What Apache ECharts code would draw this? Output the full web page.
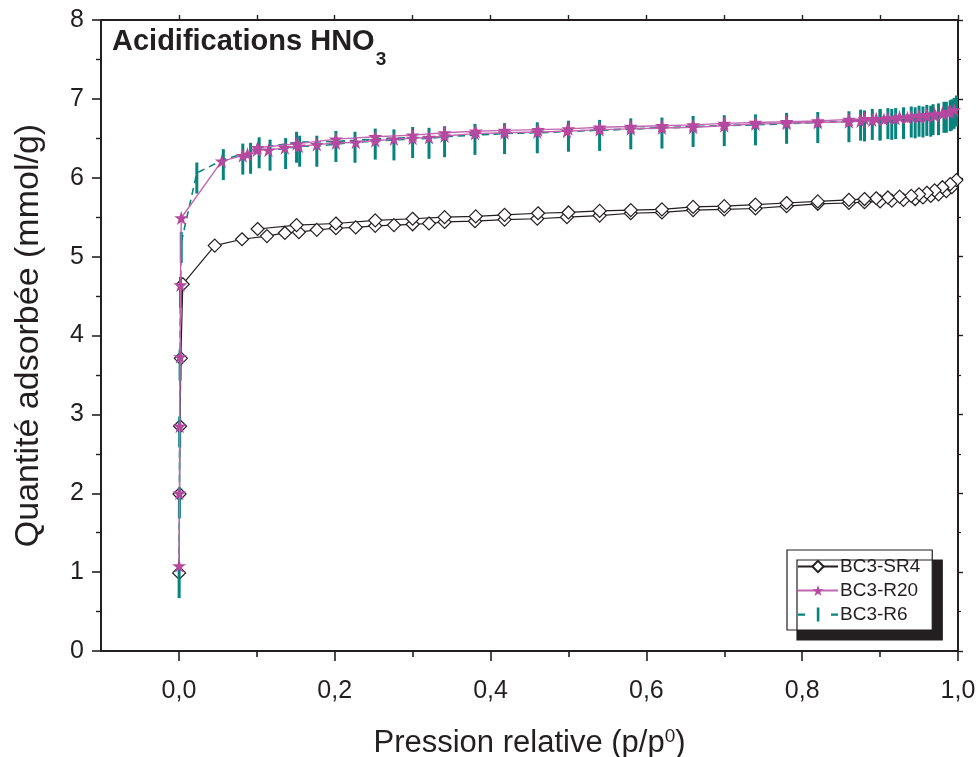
<!DOCTYPE html>
<html>
<head>
<meta charset="utf-8">
<script src="https://cdn.jsdelivr.net/npm/echarts@6/dist/echarts.min.js"></script>
<style>
html,body{margin:0;padding:0;background:#fff;}
#chart{width:977px;height:757px;}
</style>
</head>
<body>
<div id="chart"></div>
<script>
// ---------- data ----------
const X_LABEL_TICKS = [0.0, 0.2, 0.4, 0.6, 0.8, 1.0];
const X_MINOR_TICKS = [0.1, 0.3, 0.5, 0.7, 0.9];
const X_ALL_TENTHS = [0.0, 0.1, 0.2, 0.3, 0.4, 0.5, 0.6, 0.7, 0.8, 0.9, 1.0];

// BC3-SR4 (adsorption then desorption)
const SR4_ADS_X = [0.0003,0.0008,0.0015,0.0025,0.005,0.046,0.081,0.113,0.136,0.154,0.177,0.2015,0.227,0.252,0.276,0.300,0.321,0.341,0.380,0.418,0.460,0.498,0.540,0.580,0.620,0.660,0.700,0.740,0.780,0.820,0.860,0.880,0.900,0.915,0.930,0.945,0.955,0.965,0.975,0.985,0.992,0.998];
const SR4_ADS_Y = [0.99,1.99,2.85,3.71,4.65,5.14,5.22,5.26,5.30,5.31,5.34,5.36,5.37,5.39,5.40,5.41,5.42,5.44,5.45,5.47,5.48,5.50,5.52,5.55,5.56,5.59,5.60,5.61,5.64,5.67,5.68,5.69,5.70,5.71,5.72,5.73,5.75,5.77,5.79,5.83,5.88,5.97];
const SR4_DES_X = [0.990,0.980,0.970,0.960,0.950,0.940,0.925,0.910,0.895,0.880,0.860,0.820,0.780,0.740,0.700,0.660,0.620,0.580,0.540,0.500,0.461,0.418,0.381,0.341,0.300,0.252,0.2015,0.151,0.101];
const SR4_DES_Y = [5.92,5.88,5.84,5.81,5.79,5.77,5.76,5.75,5.74,5.73,5.72,5.70,5.68,5.66,5.64,5.63,5.60,5.59,5.58,5.56,5.55,5.53,5.51,5.50,5.48,5.46,5.42,5.40,5.35];

// BC3-R20
const R20_ADS_X = [0.0003,0.0006,0.001,0.0015,0.002,0.003,0.055,0.082,0.088,0.100,0.115,0.136,0.154,0.177,0.2015,0.227,0.252,0.276,0.300,0.321,0.341,0.380,0.418,0.460,0.498,0.540,0.580,0.620,0.660,0.700,0.740,0.780,0.820,0.860,0.875,0.890,0.905,0.920,0.935,0.950,0.960,0.970,0.980,0.988,0.995];
const R20_ADS_Y = [1.08,2.00,2.85,3.73,4.64,5.49,6.21,6.28,6.30,6.35,6.35,6.38,6.40,6.42,6.44,6.45,6.47,6.49,6.50,6.51,6.53,6.56,6.57,6.58,6.59,6.61,6.62,6.63,6.64,6.66,6.68,6.69,6.70,6.71,6.72,6.73,6.74,6.75,6.76,6.77,6.78,6.79,6.81,6.83,6.86];
const R20_DES_X = [0.990,0.980,0.970,0.960,0.950,0.940,0.925,0.910,0.895,0.880,0.860,0.820,0.780,0.740,0.700,0.660,0.620,0.580,0.540,0.500,0.461,0.418,0.381,0.341,0.300,0.252,0.2015,0.151,0.101];
const R20_DES_Y = [6.84,6.82,6.81,6.80,6.79,6.78,6.77,6.76,6.75,6.75,6.74,6.72,6.71,6.70,6.69,6.67,6.66,6.65,6.64,6.62,6.61,6.60,6.59,6.57,6.54,6.52,6.49,6.43,6.38];

// BC3-R6
const R6_ADS_X = [0.0003,0.0006,0.001,0.0015,0.002,0.003,0.023,0.057,0.082,0.092,0.117,0.137,0.155,0.177,0.226,0.276,0.321,0.380,0.460,0.540,0.620,0.700,0.780,0.860,0.880,0.900,0.915,0.930,0.945,0.955,0.965,0.975,0.985,0.992,0.998];
const R6_ADS_Y = [0.93,1.94,2.84,3.69,4.61,5.18,6.06,6.23,6.30,6.31,6.35,6.37,6.40,6.40,6.45,6.48,6.50,6.55,6.57,6.60,6.63,6.66,6.69,6.71,6.72,6.73,6.74,6.75,6.76,6.77,6.78,6.80,6.83,6.86,6.91];
const R6_DES_X = [0.995,0.990,0.982,0.975,0.968,0.960,0.950,0.940,0.930,0.920,0.910,0.900,0.890,0.875,0.820,0.740,0.660,0.580,0.500,0.418,0.341,0.300,0.252,0.2015,0.151,0.103];
const R6_DES_Y = [6.88,6.85,6.83,6.81,6.80,6.79,6.78,6.77,6.76,6.75,6.75,6.74,6.74,6.73,6.70,6.67,6.65,6.62,6.59,6.56,6.52,6.51,6.49,6.46,6.45,6.38];

const SERIES_NAMES = ['BC3-SR4', 'BC3-R20', 'BC3-R6'];

// ---------- helpers ----------
function pairs(xs, ys) { return xs.map((x, i) => [x, ys[i]]); }
const FONT = "'Liberation Sans', Arial, Helvetica, sans-serif";
const INK = '#231f20';
const MAGENTA = '#b5489f';
const MAGENTA_LINE = '#c467b1';
const TEAL = '#07837e';
const STAR = 'path://M50,0 L61.2,34.5 L97.6,34.5 L68.2,55.9 L79.4,90.5 L50,69.1 L20.6,90.5 L31.8,55.9 L2.4,34.5 L38.8,34.5 Z';
const R6_ICON = 'path://M0,6h7v2.2h-7z M18.8,0h2.6v14h-2.6z M33,6h7v2.2h-7z';
const fmt = v => v.toFixed(1).replace('.', ',');

const GRID = { left: 101, right: 19, top: 20, bottom: 106, containLabel: false, outerBoundsMode: 'none' };

const chart = echarts.init(document.getElementById('chart'), null, { renderer: 'canvas' });

const option = {
  animation: false,
  backgroundColor: '#ffffff',
  textStyle: { fontFamily: FONT },
  title: {
    text: '{a|Acidifications HNO}{b|3}',
    left: 112, top: 27,
    padding: 0,
    textStyle: {
      rich: {
        a: { fontFamily: FONT, fontSize: 29, fontWeight: 'bold', color: INK, lineHeight: 34, verticalAlign: 'top' },
        b: { fontFamily: FONT, fontSize: 19, fontWeight: 'bold', color: INK, lineHeight: 18, padding: [23, 0, 0, 1], verticalAlign: 'top' }
      }
    }
  },
  grid: [
    Object.assign({}, GRID),
    Object.assign({}, GRID)
  ],
  legend: {
    orient: 'vertical',
    left: 787, top: 550,
    padding: [7, 12, 6, 10],
    itemWidth: 40, itemHeight: 14, itemGap: 5,
    backgroundColor: '#ffffff',
    borderColor: INK, borderWidth: 1.2, borderRadius: 0,
    shadowColor: INK, shadowBlur: 0, shadowOffsetX: 10, shadowOffsetY: 10,
    textStyle: { fontFamily: FONT, fontSize: 19, color: INK, lineHeight: 18, padding: [0, 0, 0, -3] },
    data: [
      { name: SERIES_NAMES[0] },
      { name: SERIES_NAMES[1] },
      { name: SERIES_NAMES[2], icon: R6_ICON }
    ]
  },
  xAxis: [
    {
      gridIndex: 0, type: 'value', position: 'bottom',
      min: -0.1, max: 1.0, interval: 0.1,
      axisLine: { show: true, onZero: false, lineStyle: { color: INK, width: 2 } },
      axisTick: { show: true, inside: false, length: 10, customValues: X_LABEL_TICKS, lineStyle: { color: INK, width: 1.6 } },
      axisLabel: { show: true, customValues: X_LABEL_TICKS, formatter: fmt, fontFamily: FONT, fontSize: 25, color: INK, margin: 28 },
      splitLine: { show: false },
      name: '{a|Pression relative (p/p}{s|0}{a|)}',
      nameLocation: 'middle', nameGap: 72,
      nameTextStyle: {
        rich: {
          a: { fontFamily: FONT, fontSize: 31, color: INK, lineHeight: 36, verticalAlign: 'bottom' },
          s: { fontFamily: FONT, fontSize: 19, color: INK, lineHeight: 20, padding: [0, 0, 13, 0], verticalAlign: 'bottom' }
        }
      }
    },
    {
      gridIndex: 0, type: 'value', position: 'top',
      min: -0.1, max: 1.0, interval: 0.1,
      axisLine: { show: true, onZero: false, lineStyle: { color: INK, width: 2 } },
      axisTick: { show: true, inside: false, length: 5, customValues: X_ALL_TENTHS, lineStyle: { color: INK, width: 1.4 } },
      axisLabel: { show: false },
      splitLine: { show: false }
    },
    {
      gridIndex: 1, type: 'value', position: 'bottom',
      min: -0.1, max: 1.0, interval: 0.1,
      axisLine: { show: false, onZero: false },
      axisTick: { show: true, inside: false, length: 6, customValues: X_MINOR_TICKS, lineStyle: { color: INK, width: 1.6 } },
      axisLabel: { show: false },
      splitLine: { show: false }
    }
  ],
  yAxis: [
    {
      gridIndex: 0, type: 'value', position: 'left',
      min: 0, max: 8, interval: 1,
      axisLine: { show: true, onZero: false, lineStyle: { color: INK, width: 2 } },
      axisTick: { show: true, inside: false, length: 9, lineStyle: { color: INK, width: 1.6 } },
      minorTick: { show: true, splitNumber: 2, length: 5, lineStyle: { color: INK, width: 1.4 } },
      axisLabel: { show: true, fontFamily: FONT, fontSize: 25, color: INK, margin: 17 },
      splitLine: { show: false },
      name: 'Quantité adsorbée (mmol/g)',
      nameLocation: 'middle', nameGap: 55, nameRotate: 90,
      nameTextStyle: { fontFamily: FONT, fontSize: 34, color: INK }
    },
    {
      gridIndex: 0, type: 'value', position: 'right',
      min: 0, max: 8, interval: 1,
      axisLine: { show: true, onZero: false, lineStyle: { color: INK, width: 2 } },
      axisTick: { show: true, inside: false, length: 5, lineStyle: { color: INK, width: 1.4 } },
      minorTick: { show: true, splitNumber: 2, length: 3, lineStyle: { color: INK, width: 1.2 } },
      axisLabel: { show: false },
      splitLine: { show: false }
    },
    {
      gridIndex: 1, type: 'value', show: false, min: 0, max: 8
    }
  ],
  series: [
    {
      name: SERIES_NAMES[0], type: 'line', xAxisIndex: 0, yAxisIndex: 0,
      data: pairs(SR4_ADS_X, SR4_ADS_Y).concat(pairs(SR4_DES_X, SR4_DES_Y)),
      symbol: 'diamond', symbolSize: 13, showAllSymbol: true,
      lineStyle: { color: INK, width: 1.2 },
      itemStyle: { color: '#ffffff', borderColor: INK, borderWidth: 1.2 },
      z: 1, clip: true
    },
    {
      name: SERIES_NAMES[1], type: 'line', xAxisIndex: 0, yAxisIndex: 0,
      data: pairs(R20_ADS_X, R20_ADS_Y).concat(pairs(R20_DES_X, R20_DES_Y)),
      symbol: STAR, symbolSize: 14, showAllSymbol: true,
      lineStyle: { color: MAGENTA_LINE, width: 1.4 },
      itemStyle: { color: MAGENTA, borderWidth: 0 },
      z: 3, clip: true
    },
    {
      name: SERIES_NAMES[2], type: 'line', xAxisIndex: 0, yAxisIndex: 0,
      data: pairs(R6_ADS_X, R6_ADS_Y).concat(pairs(R6_DES_X, R6_DES_Y)),
      symbol: 'rect', symbolSize: [3, 31], symbolOffset: [0, 5], showAllSymbol: true,
      lineStyle: { color: TEAL, width: 1.6, type: [7, 5] },
      itemStyle: { color: TEAL, borderWidth: 0 },
      z: 2, clip: true
    }
  ]
};

chart.setOption(option);
</script>
</body>
</html>
